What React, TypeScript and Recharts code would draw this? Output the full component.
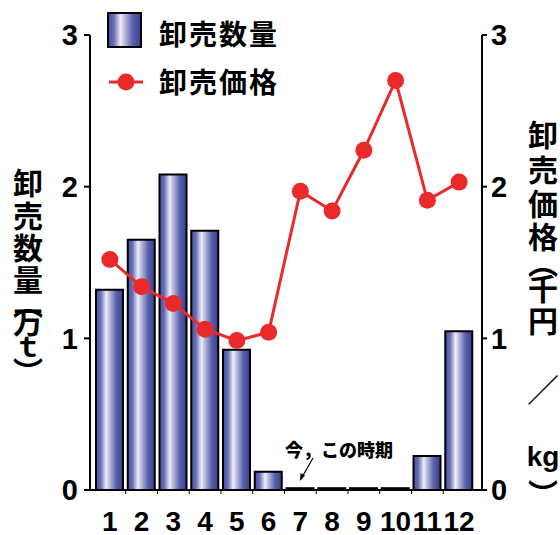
import React from 'react';
import { ComposedChart, Bar, Line, XAxis, YAxis } from 'recharts';

const months = ['1', '2', '3', '4', '5', '6', '7', '8', '9', '10', '11', '12'];
const volume = [1.32, 1.65, 2.08, 1.71, 0.925, 0.12, 0.012, 0.012, 0.012, 0.012, 0.225, 1.046];
const price = [1.52, 1.34, 1.23, 1.06, 0.985, 1.04, 1.97, 1.84, 2.24, 2.7, 1.91, 2.03];
const yTicks = [0, 1, 2, 3];

const data = months.map((m, i) => ({ month: m, volume: volume[i], price: price[i] }));

const W = 560;
const H = 535;
const PAD_L = 4;
const PAD_R = 7;
const PLOT_L = 90;
const PLOT_R = 482;
const BAND = (PLOT_R - PLOT_L - PAD_L - PAD_R) / months.length;

const NUM_FONT = '"Liberation Sans", Arial, sans-serif';
const JP_FONT = '"Noto Sans CJK JP", sans-serif';

const XTick = (props: any) => {
  const { x, y, payload, index } = props;
  return (
    <g>
      {index > 0 && (
        <line x1={x - BAND / 2} x2={x - BAND / 2} y1={y} y2={y + 4} stroke="#000" strokeWidth={1} />
      )}
      <text x={x} y={y + 31} textAnchor="middle" dominantBaseline="central" fontFamily={NUM_FONT} fontWeight="bold" fontSize={28} fill="#000">
        {payload.value}
      </text>
    </g>
  );
};

const leftTitle: [string, number, number][] = [
  ['卸', 181, 30], ['売', 214, 30], ['数', 246, 30], ['量', 278, 30], ['︵', 302, 30], ['万', 320, 30], ['ｔ', 345, 28], ['︶', 370, 30],
];
const rightTitle: [string, number, number][] = [
  ['卸', 133, 30], ['売', 168, 30], ['価', 202, 30], ['格', 235, 30], ['︵', 261, 30], ['千', 287, 30], ['円', 319, 30], ['／', 388, 32], ['kg', 456, 28], ['︶', 492, 30],
];

export default function App() {
  return (
    <div style={{ position: 'absolute', left: 0, top: 0, width: W, height: H, background: '#fff' }}>
      <svg width={0} height={0} style={{ position: 'absolute' }}>
        <defs>
          <linearGradient id="barGrad" x1="0" y1="0" x2="1" y2="0">
            <stop offset="0%" stopColor="#464c9e" />
            <stop offset="18%" stopColor="#6a70b5" />
            <stop offset="38%" stopColor="#eeeef8" />
            <stop offset="48%" stopColor="#c2c4e3" />
            <stop offset="75%" stopColor="#5a60ab" />
            <stop offset="100%" stopColor="#3a4091" />
          </linearGradient>
        </defs>
      </svg>
      <ComposedChart width={W} height={H} data={data} margin={{ top: 35, right: 0, left: 0, bottom: 0 }}>
        <XAxis
          dataKey="month"
          height={45}
          padding={{ left: PAD_L, right: PAD_R }}
          axisLine={{ stroke: '#000', strokeWidth: 2 }}
          tickLine={false}
          tickSize={0}
          tickMargin={0}
          interval={0}
          tick={<XTick />}
        />
        <YAxis
          yAxisId="left"
          orientation="left"
          width={90}
          domain={[0, 3]}
          ticks={yTicks}
          interval={0}
          axisLine={{ stroke: '#000', strokeWidth: 2 }}
          tickLine={{ stroke: '#000', strokeWidth: 2 }}
          tickSize={6}
          tickMargin={6}
          tick={{ fill: '#000', fontSize: 29, fontFamily: NUM_FONT, fontWeight: 'bold' }}
        />
        <YAxis
          yAxisId="right"
          orientation="right"
          width={78}
          domain={[0, 3]}
          ticks={yTicks}
          interval={0}
          axisLine={{ stroke: '#000', strokeWidth: 2 }}
          tickLine={{ stroke: '#000', strokeWidth: 2 }}
          tickSize={5}
          tickMargin={4}
          tick={{ fill: '#000', fontSize: 29, fontFamily: NUM_FONT, fontWeight: 'bold' }}
        />
        <Bar yAxisId="left" dataKey="volume" barSize={27} fill="url(#barGrad)" stroke="#000" strokeWidth={2} isAnimationActive={false} />
        <Line
          yAxisId="right"
          dataKey="price"
          stroke="#ea2a2a"
          strokeWidth={3}
          dot={{ r: 8.5, fill: '#ea2a2a', stroke: 'none' }}
          activeDot={false}
          isAnimationActive={false}
        />
      </ComposedChart>
      <svg width={W} height={H} style={{ position: 'absolute', left: 0, top: 0, pointerEvents: 'none' }}>
        {/* legend */}
        <rect x={108} y={13} width={33} height={34} fill="url(#barGrad)" stroke="#000" strokeWidth={2} />
        <text x={159} y={33} dominantBaseline="central" fontFamily={JP_FONT} fontWeight="bold" fontSize={28} letterSpacing={2} fill="#000">卸売数量</text>
        <line x1={109} x2={143} y1={82} y2={82} stroke="#ea2a2a" strokeWidth={3} />
        <circle cx={126} cy={82} r={8.5} fill="#ea2a2a" />
        <text x={159} y={81} dominantBaseline="central" fontFamily={JP_FONT} fontWeight="bold" fontSize={28} letterSpacing={2} fill="#000">卸売価格</text>
        {/* axis titles */}
        {leftTitle.map(([c, y, fs], i) => (
          <text key={'l' + i} x={28} y={y} textAnchor="middle" dominantBaseline="central" fontFamily={JP_FONT} fontWeight="bold" fontSize={fs} fill="#000">{c}</text>
        ))}
        {rightTitle.map(([c, y, fs], i) => (
          <text key={'r' + i} x={543} y={y} textAnchor="middle" dominantBaseline="central" fontFamily={c === 'kg' ? NUM_FONT : JP_FONT} fontWeight={c === '／' ? 'normal' : 'bold'} fontSize={fs} fill="#000">{c}</text>
        ))}
        {/* annotation */}
        <text x={285} y={449} dominantBaseline="central" fontFamily={JP_FONT} fontWeight={900} fontSize={18} fill="#000">今，この時期</text>
        <line x1={313} y1={458} x2={301} y2={479} stroke="#000" strokeWidth={1.2} />
        <path d="M300,481 L300.5,473 L305,475.5 Z" fill="#000" />
      </svg>
    </div>
  );
}
